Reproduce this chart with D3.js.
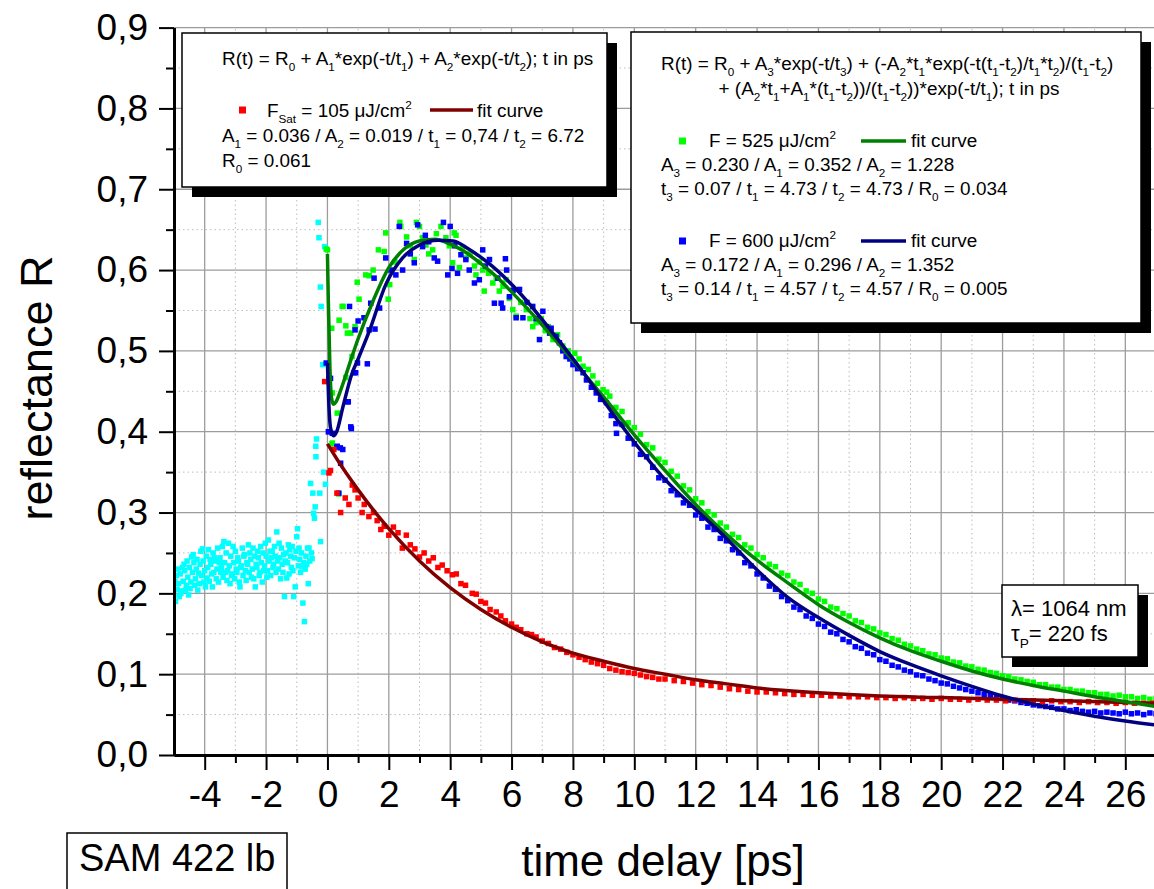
<!DOCTYPE html>
<html>
<head>
<meta charset="utf-8">
<script src="https://cdn.jsdelivr.net/npm/d3@7"></script>
<style>
  body { margin: 0; background: #fff; }
  svg text { font-family: "Liberation Sans", Arial, sans-serif; white-space: pre; }
</style>
</head>
<body>
<svg id="chart" width="1154" height="889"></svg>
<script>
// ---- axis ticks ----
const xMajorTicks = [-4, -2, 0, 2, 4, 6, 8, 10, 12, 14, 16, 18, 20, 22, 24, 26];
const xMinorTicks = [-3, -1, 1, 3, 5, 7, 9, 11, 13, 15, 17, 19, 21, 23, 25, 27];
const yMajorTicks = [0, 0.1, 0.2, 0.3, 0.4, 0.5, 0.6, 0.7, 0.8, 0.9];
const yMinorTicks = [0.05, 0.15, 0.25, 0.35, 0.45, 0.55, 0.65, 0.75, 0.85];

// ---- measured data, [t in ps, R] ----
// background before t=0, two readings per time step: [t, R_a, R_b]
const cyanRows = [
  [-5.00,0.198,0.215],[-4.95,0.190,0.222],[-4.90,0.205,0.230],[-4.85,0.212,0.196],[-4.80,0.224,0.200],
  [-4.75,0.203,0.232],[-4.70,0.215,0.236],[-4.65,0.228,0.204],[-4.60,0.210,0.240],[-4.55,0.220,0.198],
  [-4.50,0.232,0.206],[-4.45,0.214,0.245],[-4.40,0.226,0.248],[-4.35,0.238,0.210],[-4.30,0.218,0.230],
  [-4.25,0.242,0.204],[-4.20,0.225,0.212],[-4.15,0.236,0.252],[-4.10,0.222,0.255],[-4.05,0.240,0.214],
  [-4.00,0.228,0.208],[-3.95,0.246,0.219],[-3.90,0.232,0.254],[-3.85,0.215,0.242],[-3.80,0.236,0.224],
  [-3.75,0.208,0.250],[-3.70,0.226,0.244],[-3.65,0.240,0.218],[-3.60,0.230,0.256],[-3.55,0.214,0.238],
  [-3.50,0.244,0.226],[-3.45,0.232,0.258],[-3.40,0.220,0.264],[-3.35,0.238,0.226],[-3.30,0.250,0.216],
  [-3.25,0.228,0.262],[-3.20,0.234,0.212],[-3.15,0.246,0.222],[-3.10,0.224,0.258],[-3.05,0.238,0.218],
  [-3.00,0.252,0.230],[-2.95,0.226,0.244],[-2.90,0.240,0.214],[-2.85,0.208,0.232],[-2.80,0.234,0.256],
  [-2.75,0.222,0.246],[-2.70,0.248,0.228],[-2.65,0.216,0.238],[-2.60,0.236,0.260],[-2.55,0.226,0.250],
  [-2.50,0.242,0.220],[-2.45,0.230,0.256],[-2.40,0.218,0.246],[-2.35,0.208,0.236],[-2.30,0.232,0.252],
  [-2.25,0.244,0.222],[-2.20,0.226,0.258],[-2.15,0.238,0.214],[-2.10,0.250,0.228],[-2.05,0.234,0.262],
  [-2.00,0.246,0.220],[-1.95,0.228,0.266],[-1.90,0.240,0.252],[-1.85,0.222,0.244],[-1.80,0.252,0.232],
  [-1.75,0.236,0.258],[-1.70,0.246,0.226],[-1.65,0.276,0.240],[-1.60,0.230,0.262],[-1.55,0.244,0.218],
  [-1.50,0.256,0.236],[-1.45,0.226,0.248],[-1.40,0.196,0.240],[-1.35,0.250,0.219],[-1.30,0.238,0.260],
  [-1.25,0.224,0.254],[-1.20,0.246,0.232],[-1.15,0.258,0.228],[-1.10,0.196,0.244],[-1.05,0.208,0.252],
  [-1.00,0.270,0.280],[-0.95,0.234,0.256],[-0.90,0.242,0.226],[-0.85,0.250,0.233],[-0.80,0.188,0.238],
  [-0.75,0.165,0.230],[-0.70,0.246,0.236],[-0.65,0.256,0.212],[-0.60,0.256,0.240],[-0.55,0.336,0.250],
  [-0.50,0.243,0.324],[-0.45,0.299,0.293],[-0.40,0.307,0.369],[-0.38,0.382,0.391],[-0.30,0.659,0.640],
  [-0.25,0.324,0.264],[-0.23,0.579,0.555],[-0.15,0.483,0.350],[-0.09,0.629,0.335]
];

const greenPoints = [
  [-0.04,0.626],[0.00,0.625],[0.14,0.528],[0.16,0.448],[0.32,0.423],[0.16,0.386],[0.15,0.385],[0.37,0.323],
  [0.38,0.538],[0.48,0.555],[0.51,0.555],[0.60,0.531],[0.60,0.467],[0.65,0.522],[0.76,0.522],[0.80,0.493],
  [0.90,0.530],[0.97,0.585],[1.03,0.564],[1.25,0.594],[1.36,0.593],[1.49,0.600],[1.66,0.625],[1.85,0.623],
  [1.90,0.646],[1.98,0.564],[2.03,0.582],[2.20,0.610],[2.36,0.659],[2.39,0.654],[2.58,0.641],[2.70,0.630],
  [2.83,0.613],[2.90,0.659],[3.00,0.654],[3.10,0.640],[3.21,0.631],[3.30,0.620],[3.43,0.625],[3.55,0.645],
  [3.70,0.654],[3.86,0.640],[3.97,0.630],[4.08,0.609],[4.13,0.646],[4.19,0.643],[4.30,0.603],[4.40,0.628],
  [4.51,0.615],[4.65,0.620],[4.79,0.605],[4.84,0.594],[4.95,0.610],[5.06,0.600],[5.11,0.574],[5.25,0.596],
  [5.39,0.584],[5.50,0.590],[5.60,0.574],[5.72,0.580],[5.82,0.588],[5.93,0.565],[6.04,0.551],[6.15,0.543],
  [6.30,0.560],[6.48,0.551],[6.60,0.540],[6.69,0.530],[6.80,0.535],[6.97,0.540],[7.10,0.525],[7.20,0.530],
  [7.35,0.514],[7.50,0.520],[7.67,0.506],[7.85,0.500],[8.06,0.497],[8.20,0.490],[8.33,0.481],[8.50,0.477],
  [8.65,0.469],[8.80,0.460],[8.98,0.452],[9.10,0.449],
  [9.2,0.444],[9.4,0.430],[9.6,0.425],[9.8,0.411],[10.0,0.405],[10.2,0.397],[10.4,0.384],[10.6,0.380],
  [10.8,0.366],[11.0,0.362],[11.2,0.351],[11.4,0.345],[11.6,0.333],[11.8,0.328],[12.0,0.317],[12.2,0.312],
  [12.4,0.301],[12.6,0.297],[12.8,0.287],[13.0,0.282],[13.2,0.273],[13.4,0.269],[13.6,0.260],[13.8,0.256],
  [14.0,0.248],[14.2,0.244],[14.4,0.236],[14.6,0.233],[14.8,0.225],[15.0,0.222],[15.2,0.214],[15.4,0.211],
  [15.6,0.203],[15.8,0.200],[16.0,0.193],[16.2,0.190],[16.4,0.183],[16.6,0.181],[16.8,0.175],[17.0,0.172],
  [17.2,0.166],[17.4,0.164],[17.6,0.158],[17.8,0.156],[18.0,0.151],[18.2,0.149],[18.4,0.144],[18.6,0.142],
  [18.8,0.137],[19.0,0.135],[19.2,0.131],[19.4,0.129],[19.6,0.125],[19.8,0.124],[20.0,0.120],[20.2,0.119],
  [20.4,0.115],[20.6,0.114],[20.8,0.110],[21.0,0.109],[21.2,0.106],[21.4,0.105],[21.6,0.102],[21.8,0.101],
  [22.0,0.098],[22.2,0.097],[22.4,0.094],[22.6,0.093],[22.8,0.091],[23.0,0.090],[23.2,0.087],[23.4,0.087],
  [23.6,0.084],[23.8,0.084],[24.0,0.081],[24.2,0.081],[24.4,0.079],[24.6,0.079],[24.8,0.077],[25.0,0.077],
  [25.2,0.075],[25.4,0.075],[25.6,0.073],[25.8,0.074],[26.0,0.072],[26.2,0.072],[26.4,0.070],[26.6,0.071],
  [26.8,0.069],[27.0,0.070]
];

const bluePoints = [
  [-0.04,0.485],[0.05,0.466],[0.10,0.466],[0.03,0.400],[0.05,0.400],[0.16,0.398],[0.31,0.381],[0.32,0.382],
  [0.42,0.380],[0.43,0.361],[0.50,0.378],[0.37,0.324],[0.65,0.437],[0.68,0.437],[0.72,0.555],[0.76,0.406],
  [0.78,0.404],[0.87,0.473],[0.92,0.473],[0.90,0.526],[0.98,0.485],[1.00,0.537],[1.19,0.541],[1.30,0.484],
  [1.36,0.526],[1.41,0.559],[1.52,0.590],[1.55,0.527],[1.70,0.553],[1.90,0.615],[2.07,0.600],[2.23,0.594],
  [2.34,0.654],[2.45,0.600],[2.58,0.633],[2.70,0.620],[2.83,0.609],[2.94,0.656],[3.10,0.629],[3.19,0.643],
  [3.30,0.635],[3.48,0.615],[3.59,0.611],[3.78,0.659],[3.92,0.594],[4.00,0.654],[4.06,0.602],[4.15,0.630],
  [4.24,0.596],[4.35,0.619],[4.51,0.613],[4.62,0.600],[4.79,0.584],[4.95,0.588],[5.06,0.625],[5.15,0.605],
  [5.28,0.613],[5.44,0.559],[5.55,0.590],[5.66,0.559],[5.71,0.553],[5.80,0.614],[5.84,0.600],[5.93,0.567],
  [6.05,0.575],[6.15,0.541],[6.26,0.576],[6.37,0.541],[6.50,0.560],[6.69,0.555],[6.80,0.540],[6.91,0.514],
  [7.02,0.549],[7.13,0.530],[7.24,0.522],[7.29,0.528],[7.45,0.518],[7.56,0.510],[7.67,0.500],[7.78,0.493],
  [7.90,0.490],[8.00,0.483],[8.15,0.478],[8.33,0.473],[8.44,0.464],[8.60,0.455],[8.76,0.448],[8.90,0.440],
  [9.09,0.436],[9.25,0.420],[9.42,0.398],
  [9.4,0.410],[9.6,0.409],[9.8,0.392],[10.0,0.385],[10.2,0.372],[10.4,0.369],[10.6,0.356],[10.8,0.343],
  [11.0,0.340],[11.2,0.327],[11.4,0.322],[11.6,0.312],[11.8,0.309],[12.0,0.297],[12.2,0.293],[12.4,0.282],
  [12.6,0.279],[12.8,0.268],[13.0,0.265],[13.2,0.254],[13.4,0.250],[13.6,0.238],[13.8,0.234],[14.0,0.224],
  [14.2,0.219],[14.4,0.209],[14.6,0.205],[14.8,0.196],[15.0,0.191],[15.2,0.183],[15.4,0.180],[15.6,0.172],
  [15.8,0.169],[16.0,0.162],[16.2,0.159],[16.4,0.152],[16.6,0.150],[16.8,0.143],[17.0,0.140],[17.2,0.134],
  [17.4,0.132],[17.6,0.126],[17.8,0.124],[18.0,0.118],[18.2,0.116],[18.4,0.111],[18.6,0.109],[18.8,0.105],
  [19.0,0.103],[19.2,0.099],[19.4,0.098],[19.6,0.094],[19.8,0.092],[20.0,0.089],[20.2,0.088],[20.4,0.085],
  [20.6,0.083],[20.8,0.081],[21.0,0.079],[21.2,0.077],[21.4,0.075],[21.6,0.074],[21.8,0.072],[22.0,0.070],
  [22.2,0.068],[22.4,0.067],[22.6,0.065],[22.8,0.064],[23.0,0.062],[23.2,0.061],[23.4,0.060],[23.6,0.059],
  [23.8,0.057],[24.0,0.057],[24.2,0.055],[24.4,0.056],[24.6,0.054],[24.8,0.053],[25.0,0.054],[25.2,0.052],
  [25.4,0.053],[25.6,0.052],[25.8,0.051],[26.0,0.053],[26.2,0.051],[26.4,0.052],[26.6,0.050],[26.8,0.052],
  [27.0,0.051]
];

const redPoints = [
  [-0.09,0.462],[0.05,0.349],[0.10,0.352],[0.21,0.378],[0.31,0.324],[0.43,0.300],[0.58,0.318],[0.70,0.310],
  [0.81,0.334],[0.90,0.328],[1.00,0.318],[1.13,0.300],[1.20,0.310],[1.35,0.295],[1.50,0.300],[1.62,0.290],
  [1.74,0.279],[1.85,0.283],[2.00,0.272],[2.15,0.282],[2.30,0.275],[2.44,0.256],[2.57,0.272],[2.70,0.260],
  [2.85,0.255],[3.00,0.245],[3.15,0.250],[3.30,0.240],[3.45,0.244],[3.60,0.232],[3.74,0.235],[3.90,0.228],
  [4.07,0.223],[4.20,0.224],[4.35,0.212],[4.50,0.210],[4.72,0.200],[4.85,0.199],[5.00,0.190],[5.15,0.188],
  [5.30,0.180],[5.50,0.177],[5.65,0.172],[5.80,0.166],[6.00,0.162],[6.15,0.158],[6.30,0.155],[6.50,0.150],
  [6.65,0.149],[6.80,0.146],[7.00,0.141],[7.20,0.138],[7.40,0.133],[7.60,0.131],[7.80,0.127],[8.00,0.124],
  [8.20,0.121],[8.40,0.118],[8.60,0.115],[8.80,0.113],[9.00,0.111],[9.20,0.107],[9.40,0.105],[9.60,0.103],
  [9.80,0.102],[10.0,0.101],[10.2,0.099],[10.4,0.097],[10.6,0.096],[10.8,0.094],[11.0,0.094],[11.3,0.092],
  [11.6,0.091],[11.9,0.089],[12.2,0.087],[12.5,0.086],[12.8,0.084],[13.1,0.082],[13.4,0.081],[13.7,0.079],
  [14.0,0.078],[14.3,0.078],[14.6,0.077],[14.9,0.076],[15.2,0.075],[15.5,0.075],[15.8,0.074],[16.1,0.074],
  [16.4,0.073],[16.7,0.073],[17.0,0.072],[17.3,0.072],[17.6,0.072],[17.9,0.071],[18.2,0.071],[18.5,0.070],
  [18.8,0.071],[19.1,0.070],[19.4,0.070],[19.7,0.069],[20.0,0.070],[20.3,0.069],[20.6,0.069],[20.9,0.068],
  [21.2,0.069],[21.5,0.068],[21.8,0.068],[22.1,0.067],[22.4,0.068],[22.7,0.067],[23.0,0.067],[23.3,0.066],
  [23.6,0.067],[23.9,0.066],[24.2,0.066],[24.5,0.065],[24.8,0.066],[25.1,0.065],[25.4,0.065],[25.7,0.064],
  [26.0,0.065],[26.3,0.064],[26.6,0.064],[26.9,0.064]
];

// ---- fit curves ----
const redFit = [
  [0,0.385],[0.5,0.355],[1,0.328],[2,0.28],[3,0.24],[4,0.207],[5,0.18],[6,0.158],[7,0.14],[8,0.126],
  [9,0.116],[10,0.107],[11,0.1],[12,0.093],[13,0.088],[14,0.083],[16,0.077],[18,0.073],[20,0.071],
  [22,0.069],[24,0.067],[26,0.065],[27,0.064]
];
const greenFit = [
  [0,0.62],[0.03,0.56],[0.08,0.48],[0.14,0.44],[0.2,0.434],[0.28,0.437],[0.4,0.448],[0.6,0.47],[0.8,0.493],
  [1,0.515],[1.5,0.563],[2,0.603],[2.5,0.626],[3,0.636],[3.5,0.638],[4,0.632],[4.5,0.622],[5,0.608],
  [5.5,0.592],[6,0.573],[7,0.532],[8,0.488],[9,0.443],[10,0.396],[11,0.352],[12,0.31],[13,0.273],
  [14,0.241],[15,0.213],[16,0.186],[17,0.164],[18,0.145],[19,0.129],[20,0.116],[21,0.104],[22,0.094],
  [23,0.086],[24,0.079],[25,0.072],[26,0.066],[27,0.06]
];
const blueFit = [
  [0,0.485],[0.04,0.44],[0.1,0.405],[0.2,0.395],[0.3,0.4],[0.5,0.43],[0.8,0.472],[1,0.49],[1.36,0.524],
  [1.9,0.582],[2.45,0.615],[3,0.631],[3.6,0.637],[4.1,0.636],[4.6,0.626],[5.2,0.61],[6.26,0.572],
  [7.35,0.522],[8.44,0.468],[9,0.438],[10,0.387],[11,0.341],[12,0.304],[13,0.268],[14,0.229],[15,0.195],
  [16,0.17],[17,0.148],[18,0.128],[19,0.112],[20,0.098],[21,0.085],[22,0.073],[23,0.063],[24,0.055],
  [25,0.048],[26,0.042],[27,0.037]
];

const COL = {
  cyan: "#00ffff", red: "#ff0000", green: "#00ff00", blue: "#0000ff",
  redFit: "#800000", greenFit: "#008000", blueFit: "#000080"
};

const svg = d3.select("#chart");
const x = d3.scaleLinear().domain([-5, 27]).range([174, 1156]);
const y = d3.scaleLinear().domain([0, 0.9]).range([755, 27.6]);

// grid
const grid = svg.append("g");
grid.selectAll(".vmin").data(xMinorTicks).enter().append("line")
  .attr("x1", d => x(d)).attr("x2", d => x(d)).attr("y1", y(0)).attr("y2", y(0.9))
  .attr("stroke", "#bdbdbd").attr("stroke-width", 1).attr("stroke-dasharray", "1.5,3");
grid.selectAll(".hmin").data(yMinorTicks).enter().append("line")
  .attr("x1", x(-5)).attr("x2", x(27)).attr("y1", d => y(d)).attr("y2", d => y(d))
  .attr("stroke", "#bdbdbd").attr("stroke-width", 1).attr("stroke-dasharray", "1.5,3");
grid.selectAll(".vmaj").data(xMajorTicks).enter().append("line")
  .attr("x1", d => x(d)).attr("x2", d => x(d)).attr("y1", y(0)).attr("y2", y(0.9))
  .attr("stroke", "#9c9c9c").attr("stroke-width", 1.3);
grid.selectAll(".hmaj").data(yMajorTicks.slice(1)).enter().append("line")
  .attr("x1", x(-5)).attr("x2", x(27)).attr("y1", d => y(d)).attr("y2", d => y(d))
  .attr("stroke", "#9c9c9c").attr("stroke-width", 1.3);

// data
svg.append("clipPath").attr("id", "plotClip").append("rect")
  .attr("x", x(-5)).attr("y", y(0.9)).attr("width", x(27) - x(-5)).attr("height", y(0) - y(0.9));
const plot = svg.append("g").attr("clip-path", "url(#plotClip)");

const S = 5.5;
function drawPoints(data, color) {
  plot.append("g").selectAll("rect").data(data).enter().append("rect")
    .attr("x", d => x(d[0]) - S / 2).attr("y", d => y(d[1]) - S / 2)
    .attr("width", S).attr("height", S).attr("fill", color);
}
drawPoints(cyanRows.flatMap(r => [[r[0], r[1]], [r[0] + 0.025, r[2]]]), COL.cyan);
drawPoints(greenPoints, COL.green);
drawPoints(bluePoints, COL.blue);
drawPoints(redPoints, COL.red);

const line = d3.line().x(d => x(d[0])).y(d => y(d[1])).curve(d3.curveMonotoneX);
[[redFit, COL.redFit], [greenFit, COL.greenFit], [blueFit, COL.blueFit]].forEach(([data, c]) => {
  plot.append("path").datum(data).attr("fill", "none").attr("stroke", c)
    .attr("stroke-width", 3.5).attr("stroke-linejoin", "round").attr("d", line);
});

// axes
const fmtY = d => d.toFixed(1).replace(".", ",");
svg.append("g").attr("transform", `translate(0,${y(0)})`)
  .call(d3.axisBottom(x).tickValues(xMajorTicks).tickSize(15).tickSizeOuter(0).tickPadding(11).tickFormat(d => String(d)));
svg.append("g").attr("transform", `translate(0,${y(0)})`)
  .call(d3.axisBottom(x).tickValues(xMinorTicks).tickSize(8).tickSizeOuter(0).tickFormat(""));
svg.append("g").attr("transform", `translate(${x(-5)},0)`)
  .call(d3.axisLeft(y).tickValues(yMajorTicks).tickSize(15).tickSizeOuter(0).tickPadding(11).tickFormat(fmtY));
svg.append("g").attr("transform", `translate(${x(-5)},0)`)
  .call(d3.axisLeft(y).tickValues(yMinorTicks).tickSize(8).tickSizeOuter(0).tickFormat(""));
svg.selectAll(".domain").attr("stroke", "#000").attr("stroke-width", 3);
svg.selectAll(".tick line").attr("stroke", "#000").attr("stroke-width", 2);
svg.selectAll(".tick text").attr("font-family", "Liberation Sans, Arial, sans-serif")
  .attr("font-size", 37).attr("fill", "#000");

// axis titles
svg.append("text").attr("x", 663).attr("y", 876).attr("text-anchor", "middle")
  .attr("font-size", 44).text("time delay [ps]");
svg.append("text").attr("transform", "translate(52,388) rotate(-90)").attr("text-anchor", "middle")
  .attr("font-size", 45).text("reflectance R");

// rich text with _{sub} and ^{sup}
function rich(g, px, py, str, size, anchor = "start") {
  const t = g.append("text").attr("x", px).attr("y", py).attr("font-size", size).attr("text-anchor", anchor);
  const re = /([_^])\{([^}]*)\}|([^_^]+)/g;
  let m, shift = 0;
  while ((m = re.exec(str))) {
    if (m[3]) {
      t.append("tspan").attr("dy", -shift).text(m[3]);
      shift = 0;
    } else {
      const dy = m[1] === "_" ? size * 0.3 : -size * 0.4;
      t.append("tspan").attr("font-size", size * 0.62).attr("dy", dy - shift).text(m[2]);
      shift = dy;
    }
  }
  return t;
}

function box(x0, y0, w, h, shadow = 10) {
  const g = svg.append("g");
  if (shadow) g.append("rect").attr("x", x0 + shadow).attr("y", y0 + shadow).attr("width", w).attr("height", h).attr("fill", "#000");
  g.append("rect").attr("x", x0).attr("y", y0).attr("width", w).attr("height", h)
    .attr("fill", "#fff").attr("stroke", "#000").attr("stroke-width", 1.5);
  return g;
}

const FS = 18.9;
// legend 1
const L1 = box(182, 33, 425, 154);
rich(L1, 222, 65, "R(t) = R_{0} + A_{1}*exp(-t/t_{1}) + A_{2}*exp(-t/t_{2}); t in ps", FS);
L1.append("rect").attr("x", 239).attr("y", 106.5).attr("width", 7).attr("height", 7).attr("fill", COL.red);
rich(L1, 267, 117, "F_{Sat} = 105 μJ/cm^{2}", FS);
L1.append("line").attr("x1", 430).attr("x2", 473).attr("y1", 110).attr("y2", 110).attr("stroke", COL.redFit).attr("stroke-width", 3.5);
rich(L1, 477, 117, "fit curve", FS);
rich(L1, 222, 142, "A_{1} = 0.036 / A_{2} = 0.019 / t_{1} = 0,74 / t_{2} = 6.72", FS);
rich(L1, 222, 167, "R_{0} = 0.061", FS);

// legend 2
const L2 = box(631, 32, 510, 291);
rich(L2, 661, 70, "R(t) = R_{0} + A_{3}*exp(-t/t_{3}) + (-A_{2}*t_{1}*exp(-t(t_{1}-t_{2})/t_{1}*t_{2})/(t_{1}-t_{2})", FS);
rich(L2, 889, 95, "+ (A_{2}*t_{1}+A_{1}*(t_{1}-t_{2}))/(t_{1}-t_{2}))*exp(-t/t_{1}); t in ps", FS, "middle");
L2.append("rect").attr("x", 679).attr("y", 137.5).attr("width", 7).attr("height", 7).attr("fill", COL.green);
rich(L2, 709, 147, "F = 525 μJ/cm^{2}", FS);
L2.append("line").attr("x1", 861).attr("x2", 906).attr("y1", 141).attr("y2", 141).attr("stroke", COL.greenFit).attr("stroke-width", 3.5);
rich(L2, 911, 147, "fit curve", FS);
rich(L2, 661, 171, "A_{3} = 0.230 / A_{1} = 0.352 / A_{2} = 1.228", FS);
rich(L2, 661, 195, "t_{3} = 0.07 / t_{1} = 4.73 / t_{2} = 4.73 / R_{0} = 0.034", FS);
L2.append("rect").attr("x", 679).attr("y", 237.5).attr("width", 7).attr("height", 7).attr("fill", COL.blue);
rich(L2, 709, 247, "F = 600 μJ/cm^{2}", FS);
L2.append("line").attr("x1", 861).attr("x2", 906).attr("y1", 241).attr("y2", 241).attr("stroke", COL.blueFit).attr("stroke-width", 3.5);
rich(L2, 911, 247, "fit curve", FS);
rich(L2, 661, 271, "A_{3} = 0.172 / A_{1} = 0.296 / A_{2} = 1.352", FS);
rich(L2, 661, 295, "t_{3} = 0.14 / t_{1} = 4.57 / t_{2} = 4.57 / R_{0} = 0.005", FS);

// laser parameters
const L3 = box(1002, 585, 136, 72);
rich(L3, 1011, 616, "λ= 1064 nm", 22);
rich(L3, 1011, 641, "τ_{P}= 220 fs", 22);

// sample label
const L4 = box(67, 833, 220, 70, 0);
rich(L4, 79, 871, "SAM 422 lb", 38);
</script>
</body>
</html>
